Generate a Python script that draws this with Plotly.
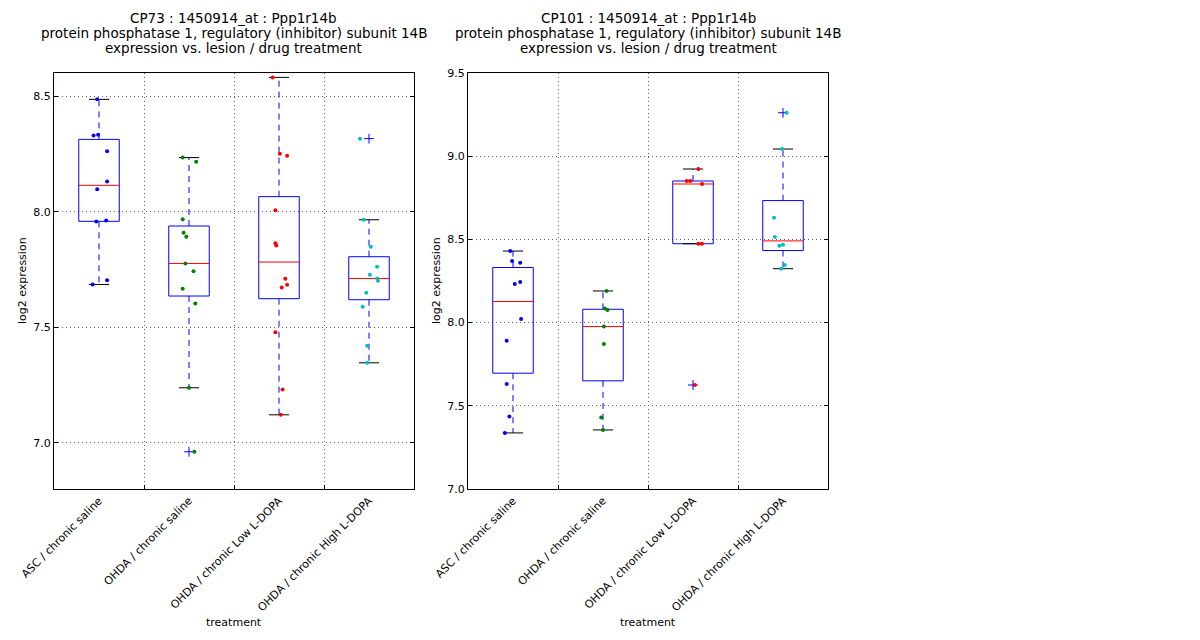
import numpy as np
import plotly.graph_objects as go

FONT = "DejaVu Sans"

categories = ["ASC / chronic saline", "OHDA / chronic saline",
              "OHDA / chronic Low L-DOPA", "OHDA / chronic High L-DOPA"]
point_colors = ["#0000ff", "#008000", "#ff0000", "#00bfbf"]

# CP73 - значения экспрессии по группам
cp73_values = [
    [8.486, 8.333, 8.330, 8.261, 8.131, 8.097, 7.962, 7.957, 7.703, 7.685],
    [8.234, 8.216, 7.967, 7.909, 7.892, 7.776, 7.742, 7.667, 7.603, 7.238, 6.961],
    [8.581, 8.251, 8.242, 8.006, 7.863, 7.854, 7.710, 7.684, 7.672, 7.478, 7.231, 7.121],
    [8.316, 7.965, 7.848, 7.762, 7.727, 7.711, 7.701, 7.649, 7.589, 7.420, 7.346],
]
cp73_jitter = [
    [-0.02, -0.01, -0.06, 0.09, 0.09, -0.02, 0.08, -0.03, 0.09, -0.07],
    [-0.07, 0.08, -0.07, -0.06, -0.03, -0.04, 0.05, -0.07, 0.07, 0.00, 0.06],
    [-0.07, 0.01, 0.09, -0.04, -0.04, -0.03, 0.07, 0.09, 0.03, -0.04, 0.04, 0.02],
    [-0.10, -0.06, 0.02, 0.09, 0.01, 0.09, 0.10, -0.03, -0.07, -0.02, -0.02],
]

# CP101
cp101_values = [
    [8.430, 8.370, 8.360, 8.244, 8.232, 8.022, 7.891, 7.631, 7.435, 7.337],
    [8.190, 8.084, 8.076, 7.976, 7.871, 7.429, 7.355],
    [8.923, 8.851, 8.851, 8.833, 8.474, 8.474, 7.625],
    [9.261, 9.043, 8.630, 8.514, 8.468, 8.462, 8.346, 8.324],
]
cp101_jitter = [
    [-0.03, -0.01, 0.08, 0.08, 0.02, 0.09, -0.07, -0.07, -0.04, -0.09],
    [0.04, 0.02, 0.05, 0.01, 0.01, -0.02, 0.00],
    [0.06, -0.07, -0.03, 0.10, 0.06, 0.10, 0.02],
    [0.04, -0.01, -0.10, -0.09, 0.00, -0.04, 0.02, -0.02],
]

panels = [
    ("CP73", cp73_values, cp73_jitter, [6.8, 8.6], [7.0, 7.5, 8.0, 8.5]),
    ("CP101", cp101_values, cp101_jitter, [7.0, 9.5], [7.0, 7.5, 8.0, 8.5, 9.0, 9.5]),
]
title_tail = ["1450914_at : Ppp1r14b",
              "protein phosphatase 1, regulatory (inhibitor) subunit 14B",
              "expression vs. lesion / drug treatment"]

W, H = 1192, 632  # страница сдвинута на 8px отступом body
BOX_HALF = 0.225
CAP_HALF = 0.1125
GRID = dict(showgrid=True, griddash="1px,3px", gridcolor="#606060", gridwidth=1)


def box_stats(vals):
    """Квартили и усы как в matplotlib (1.5 IQR)."""
    v = np.asarray(vals)
    q1, med, q3 = np.percentile(v, [25, 50, 75])
    iqr = q3 - q1
    lo = v[v >= q1 - 1.5 * iqr].min()
    hi = v[v <= q3 + 1.5 * iqr].max()
    out = v[(v < lo) | (v > hi)]
    return q1, med, q3, lo, hi, out


fig = go.Figure()
domains = [[46 / W, 406 / W], [460 / W, 820 / W]]
ydom = [1 - 481 / H, 1 - 65 / H]
ylabel_x = [14 / W, 428 / W]

for p, (name, values, jitter, yr, yt) in enumerate(panels):
    xa = "x" if p == 0 else "x2"
    ya = "y" if p == 0 else "y2"
    for i, vals in enumerate(values):
        pos = i + 1
        q1, med, q3, lo, hi, out = box_stats(vals)
        # коробка
        fig.add_trace(go.Scatter(
            x=[pos - BOX_HALF, pos + BOX_HALF, pos + BOX_HALF, pos - BOX_HALF, pos - BOX_HALF],
            y=[q1, q1, q3, q3, q1], mode="lines",
            line=dict(color="#0000ff", width=1), xaxis=xa, yaxis=ya,
            showlegend=False, hoverinfo="skip"))
        # усы
        fig.add_trace(go.Scatter(
            x=[pos, pos, None, pos, pos], y=[q1, lo, None, q3, hi], mode="lines",
            line=dict(color="#0000ff", width=1, dash="6px,5px"), xaxis=xa, yaxis=ya,
            showlegend=False, hoverinfo="skip"))
        # засечки
        fig.add_trace(go.Scatter(
            x=[pos - CAP_HALF, pos + CAP_HALF, None, pos - CAP_HALF, pos + CAP_HALF],
            y=[lo, lo, None, hi, hi], mode="lines",
            line=dict(color="black", width=1), xaxis=xa, yaxis=ya,
            showlegend=False, hoverinfo="skip"))
        # медиана
        fig.add_trace(go.Scatter(
            x=[pos - BOX_HALF, pos + BOX_HALF], y=[med, med], mode="lines",
            line=dict(color="#ff0000", width=1), xaxis=xa, yaxis=ya,
            showlegend=False, hoverinfo="skip"))
        # выбросы
        if len(out):
            fig.add_trace(go.Scatter(
                x=[pos] * len(out), y=out, mode="markers",
                marker=dict(symbol="cross-thin", size=7, line=dict(color="#0000ff", width=1)),
                xaxis=xa, yaxis=ya, showlegend=False))
        # точки
        fig.add_trace(go.Scatter(
            x=[pos + j for j in jitter[i]], y=vals, mode="markers",
            marker=dict(color=point_colors[i], size=4, line=dict(width=0)),
            xaxis=xa, yaxis=ya, showlegend=False,
            hovertemplate="%{y:.3f}<extra></extra>"))

    sfx = "" if p == 0 else "2"
    fig.update_layout(**{
        "xaxis" + sfx: dict(
            domain=domains[p], range=[0.5, 4.5], anchor=ya, automargin=False,
            tickvals=[1, 2, 3, 4], ticktext=categories, tickangle=-45,
            ticks="", showgrid=False, zeroline=False,
            showline=True, linecolor="black", linewidth=1, mirror=True,
            minor=dict(tickvals=[1.5, 2.5, 3.5], ticks="inside", ticklen=4,
                       tickcolor="black", **GRID),
            tickfont=dict(size=11, color="black"),
        ),
        "yaxis" + sfx: dict(
            domain=ydom, range=yr, anchor=xa, automargin=False,
            tickvals=yt, tickformat=".1f",
            ticks="inside", ticklen=4, tickcolor="black", zeroline=False,
            showline=True, linecolor="black", linewidth=1, mirror="ticks",
            tickfont=dict(size=11, color="black"),
            **GRID,
        ),
    })
    lines = [f"{name} : {title_tail[0]}"] + title_tail[1:]
    for k, line in enumerate(lines):
        fig.add_annotation(
            text=line, xref="paper", yref="paper",
            x=sum(domains[p]) / 2, y=1 - (10 + 15 * k) / H,
            xanchor="center", yanchor="middle",
            showarrow=False, font=dict(size=13.5, color="black"))
    # подписи осей
    fig.add_annotation(
        text="treatment", xref="paper", yref="paper",
        x=sum(domains[p]) / 2, y=1 - 614 / H, xanchor="center", yanchor="middle",
        showarrow=False, font=dict(size=11, color="black"))
    fig.add_annotation(
        text="log2 expression", xref="paper", yref="paper", textangle=-90,
        x=ylabel_x[p], y=sum(ydom) / 2, xanchor="center", yanchor="middle",
        showarrow=False, font=dict(size=11, color="black"))

fig.update_layout(
    width=W, height=H,
    margin=dict(l=0, r=0, t=0, b=0),
    paper_bgcolor="white", plot_bgcolor="white",
    font=dict(family=FONT, color="black"),
)

fig.write_html("out.html")
